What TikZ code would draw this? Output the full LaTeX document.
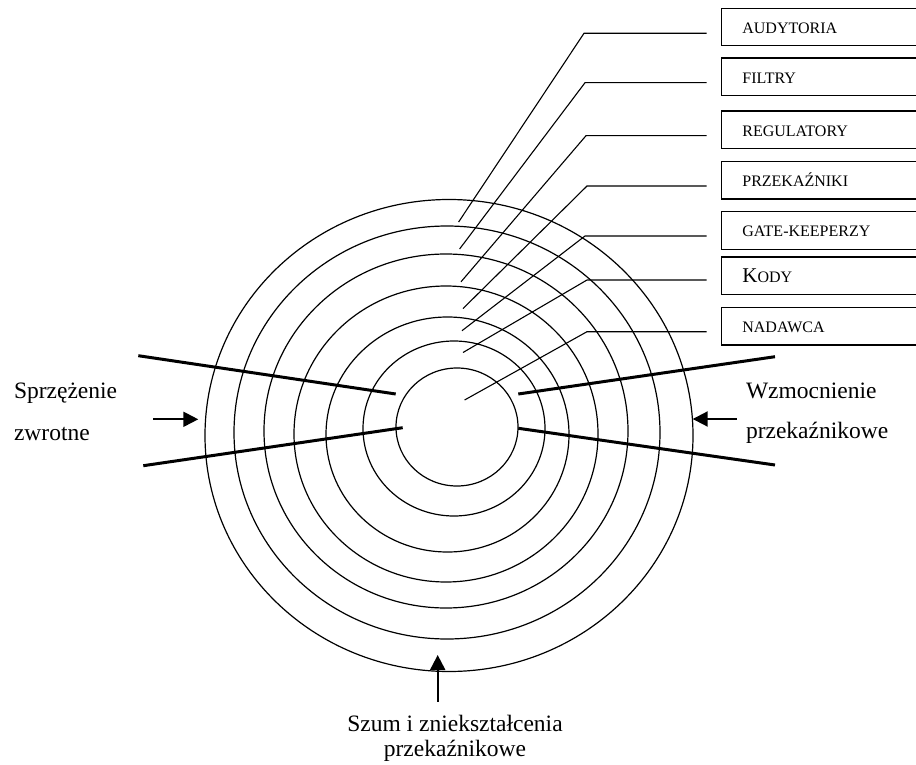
\documentclass[tikz,border=0pt]{standalone}
\usepackage{fontspec}
\setmainfont{Liberation Serif}
\usetikzlibrary{arrows.meta}

\begin{document}
\begin{tikzpicture}[
  x=1pt, y=-1pt,
  ring/.style={line width=1.2pt},
  leader/.style={line width=1.1pt},
  gate/.style={line width=3pt},
  push/.style={line width=2pt, -{Triangle[length=15pt, width=15pt]}},
  layer/.style={draw, line width=1.3pt, anchor=west, minimum height=37.5pt,
                text width=180pt, inner xsep=21pt, align=left,
                text height=12.8pt, text depth=0pt,
                font=\fontsize{16}{19}\selectfont},
  side/.style={anchor=base west, font=\fontsize{23.5}{28}\selectfont},
  foot/.style={anchor=base, font=\fontsize{23.5}{28}\selectfont}
]
\useasboundingbox (0,0) rectangle (916,765);

% rings, outer to inner
\draw[ring] (449,435.5) ellipse [x radius=244, y radius=236];
\draw[ring] (447,432.5) ellipse [x radius=213, y radius=206.5];
\draw[ring] (446,431) ellipse [x radius=182, y radius=177];
\draw[ring] (446,434) ellipse [x radius=152, y radius=148];
\draw[ring] (447.5,434.5) ellipse [x radius=121.5, y radius=117.5];
\draw[ring] (454,428.5) ellipse [x radius=91, y radius=87.5];
\draw[ring] (457,427) ellipse [x radius=61, y radius=59];

% layer boxes
\node[layer] (audyt) at (720.7,27) {AUDYTORIA};
\node[layer] (filtry) at (720.7,76.7) {FILTRY};
\node[layer] (regul) at (720.7,129.7) {REGULATORY};
\node[layer] (przek) at (720.7,180.3) {PRZEKAŹNIKI};
\node[layer] (gatek) at (720.7,230.5) {GATE-KEEPERZY};
\node[layer] (kody) at (720.7,275.8) {{\fontsize{21}{21}\selectfont K}ODY};
\node[layer] (nadaw) at (720.7,326.2) {NADAWCA};

% leader lines
\coordinate (in1) at (458.6,222);
\coordinate (in2) at (459.6,249);
\coordinate (in3) at (461,281.8);
\coordinate (in4) at (463,308.6);
\coordinate (in5) at (462,330.7);
\coordinate (in6) at (463,352.5);
\coordinate (in7) at (464.6,400);
\coordinate (out1) at (706.7,33.3);
\coordinate (out2) at (706.7,82.7);
\coordinate (out3) at (706.7,135.7);
\coordinate (out4) at (706.7,186);
\coordinate (out5) at (706.7,236);
\coordinate (out6) at (706.7,280);
\coordinate (out7) at (706.7,331.7);
\draw[leader] (in1) -- (584,33.3) -- (out1);
\draw[leader] (in2) -- (585,82.7) -- (out2);
\draw[leader] (in3) -- (586,135.7) -- (out3);
\draw[leader] (in4) -- (587,186) -- (out4);
\draw[leader] (in5) -- (585,236) -- (out5);
\draw[leader] (in6) -- (587,280) -- (out6);
\draw[leader] (in7) -- (587,331.7) -- (out7);

% thick channel lines
\coordinate (lu1) at (138.3,355.7);
\coordinate (lu2) at (395.7,394);
\coordinate (ll1) at (143.3,465.7);
\coordinate (ll2) at (402.7,427.7);
\coordinate (ru1) at (518.3,394);
\coordinate (ru2) at (775,356.7);
\coordinate (rl1) at (518.3,428.3);
\coordinate (rl2) at (775,465);
\draw[gate] (lu1) -- (lu2);
\draw[gate] (ll1) -- (ll2);
\draw[gate] (ru1) -- (ru2);
\draw[gate] (rl1) -- (rl2);

% influences
\node[side] (sprz) at (10.5,398.3) {Sprzężenie};
\node[side] (zwrot) at (10.5,440.7) {zwrotne};
\node[side] (wzmoc) at (742.5,398.3) {Wzmocnienie};
\node[side] (przk) at (742.5,438.3) {przekaźnikowe};
\node[foot] (szum) at (455,731.5) {Szum i zniekształcenia};
\node[foot] (przk2) at (455,756.5) {przekaźnikowe};

\coordinate (lt) at (153.3,419.3);
\coordinate (lh) at (198.3,419.3);
\coordinate (rt) at (736.7,419);
\coordinate (rh) at (692.7,419);
\coordinate (bt) at (437.7,701.7);
\coordinate (bh) at (437.7,655);
\draw[push] (lt) -- (lh);
\draw[push] (rt) -- (rh);
\draw[push] (bt) -- (bh);
\end{tikzpicture}
\end{document}
